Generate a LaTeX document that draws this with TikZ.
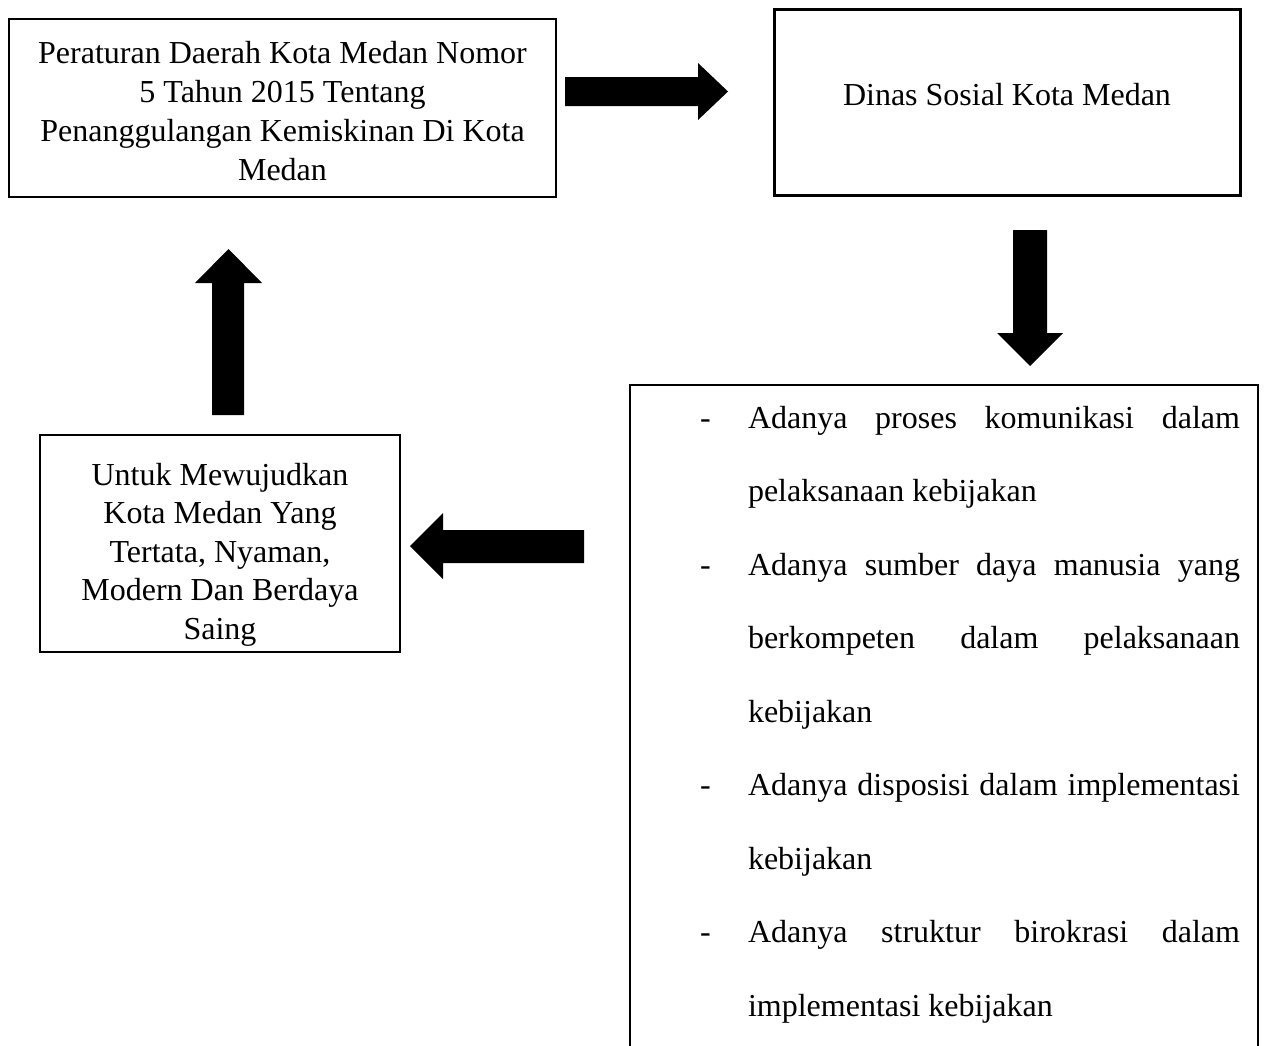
\documentclass[tikz,border=0pt]{standalone}
\usepackage{fontspec}
\setmainfont{Liberation Serif}
\begin{document}
\begin{tikzpicture}[x=1pt,y=-1pt,
  box/.style={draw=black,line width=2.2pt,inner sep=0pt,outer sep=0pt},
  txt/.style={inner sep=0pt,outer sep=0pt,font=\fontsize{32}{38.5}\selectfont},
  blk/.style={fill=black}]
\clip (0,0) rectangle (1264,1045);
\fill[white] (0,0) rectangle (1264,1045);

% boxes
\node[box,minimum width=547pt,minimum height=178pt] (b1) at (282.5,108) {};
\node[box,minimum width=466pt,minimum height=186pt] (b2) at (1007.5,102.5) {};
\node[box,minimum width=628pt,minimum height=720pt] (b3) at (944,745) {};
\node[box,minimum width=360pt,minimum height=217pt] (b4) at (220,543.5) {};

% box 1 text
\node[txt,anchor=base] (t11) at (282.5,63) {Peraturan Daerah Kota Medan Nomor};
\node[txt,anchor=base] (t12) at (282.5,102) {5 Tahun 2015 Tentang};
\node[txt,anchor=base] (t13) at (282.5,141) {Penanggulangan Kemiskinan Di Kota};
\node[txt,anchor=base] (t14) at (282.5,180) {Medan};

% box 2 text
\node[txt,anchor=base] (t21) at (1007,105) {Dinas Sosial Kota Medan};

% box 4 text
\node[txt,anchor=base] (t41) at (220,485) {Untuk Mewujudkan};
\node[txt,anchor=base] (t42) at (220,523.5) {Kota Medan Yang};
\node[txt,anchor=base] (t43) at (220,562) {Tertata, Nyaman,};
\node[txt,anchor=base] (t44) at (220,600.5) {Modern Dan Berdaya};
\node[txt,anchor=base] (t45) at (220,639) {Saing};

% box 3 text
\node[txt,anchor=base west] (d1) at (700,428) {-};
\node[txt,anchor=base west] (l1) at (748,428) {\makebox[492pt][s]{Adanya proses komunikasi dalam}};
\node[txt,anchor=base west] (l2) at (748,501.5) {pelaksanaan kebijakan};
\node[txt,anchor=base west] (d2) at (700,575) {-};
\node[txt,anchor=base west] (l3) at (748,575) {\makebox[492pt][s]{Adanya sumber daya manusia yang}};
\node[txt,anchor=base west] (l4) at (748,648.5) {\makebox[492pt][s]{berkompeten dalam pelaksanaan}};
\node[txt,anchor=base west] (l5) at (748,722) {kebijakan};
\node[txt,anchor=base west] (d3) at (700,795.5) {-};
\node[txt,anchor=base west] (l6) at (748,795.5) {\makebox[492pt][s]{Adanya disposisi dalam implementasi}};
\node[txt,anchor=base west] (l7) at (748,869) {kebijakan};
\node[txt,anchor=base west] (d4) at (700,942.5) {-};
\node[txt,anchor=base west] (l8) at (748,942.5) {\makebox[492pt][s]{Adanya struktur birokrasi dalam}};
\node[txt,anchor=base west] (l9) at (748,1016) {implementasi kebijakan};

% block arrows
% right: b1 -> b2
\fill[blk] (565,77) -- (698,77) -- (698,63) -- (728,91.5) -- (698,120) -- (698,106) -- (565,106) -- cycle;
% down: b2 -> b3
\fill[blk] (1013,230) -- (1047,230) -- (1047,333) -- (1063,333) -- (1030,366) -- (997,333) -- (1013,333) -- cycle;
% left: b3 -> b4
\fill[blk] (584,530) -- (443,530) -- (443,513) -- (410,546) -- (443,579) -- (443,563) -- (584,563) -- cycle;
% up: b4 -> b1
\fill[blk] (212,415) -- (212,283) -- (195,283) -- (228.5,249) -- (262,283) -- (244,283) -- (244,415) -- cycle;
\end{tikzpicture}
\end{document}
